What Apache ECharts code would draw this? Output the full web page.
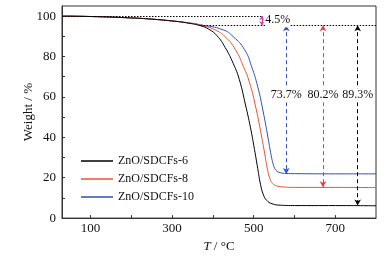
<!DOCTYPE html>
<html>
<head>
  <meta charset="UTF-8">
  <title>TGA</title>
  <script src="https://cdn.jsdelivr.net/npm/echarts@6/dist/echarts.min.js"></script>
</head>
<body style="margin:0;background:#fff;">
  <div id="main" style="width:391px;height:258px;"></div>
  <script type="text/javascript">
    // TG curves, temperature (°C) vs weight (%)
    var names = ['ZnO/SDCFs-6', 'ZnO/SDCFs-8', 'ZnO/SDCFs-10'];
    var colors = ['#000000', '#f0502a', '#2f4fb0'];
    var temp6 = [30, 100, 200, 250, 300, 340, 370, 390, 410, 430, 450, 465, 480, 492, 502, 510, 517, 524, 532, 545, 565, 600, 700, 800];
    var wt6 = [100, 99.8, 99.1, 98.5, 97.6, 96.5, 95.2, 93.5, 90.3, 84.5, 76.5, 68.5, 56.0, 45.0, 34.0, 24.5, 16.5, 11.5, 8.8, 7.1, 6.4, 6.2, 6.2, 6.1];
    var temp8 = [30, 100, 200, 250, 300, 340, 370, 405, 430, 455, 475, 490, 505, 517, 527, 534, 540, 547, 557, 575, 600, 700, 800];
    var wt8 = [100, 99.8, 99.1, 98.5, 97.6, 96.6, 95.5, 93.2, 89.8, 83.5, 75.0, 67.0, 55.0, 43.0, 32.0, 24.0, 19.5, 17.0, 15.9, 15.4, 15.2, 15.2, 15.1];
    var temp10 = [30, 100, 200, 250, 300, 340, 370, 425, 450, 478, 495, 510, 523, 535, 543, 549, 555, 565, 580, 600, 700, 800];
    var wt10 = [100, 99.8, 99.1, 98.5, 97.6, 96.7, 95.7, 93.2, 89.8, 83.3, 75.0, 65.0, 53.0, 40.0, 31.0, 26.0, 23.6, 22.5, 22.1, 22.0, 21.9, 21.9];

    // annotations
    var startLevel = 95.5;
    var loss1 = '4.5%';
    var loss1X = 520;
    var arrowX = [580, 670, 755];
    var arrowEnd = [21.8, 15.3, 6.2];
    var arrowText = ['73.7%', '80.2%', '89.3%'];
    var arrowColors = ['#3050c8', '#e83a3a', '#000000'];
    var textLevel = 60.8;

    var xTicks = [100, 200, 300, 400, 500, 600, 700];
    var xLabels = [100, 300, 500, 700];
    var yTicks = [0, 10, 20, 30, 40, 50, 60, 70, 80, 90, 100];
    var yLabels = [0, 20, 40, 60, 80, 100];

    var font = 'Liberation Serif, Times New Roman, serif';
    var dotted = { color: '#000', type: [1.5, 1.5], width: 1 };

    function pairs(xs, ys) {
      return xs.map(function (x, i) { return [x, ys[i]]; });
    }

    function arrowLine(i) {
      return {
        data: [[{ coord: [arrowX[i], startLevel] }, { coord: [arrowX[i], arrowEnd[i]] }]],
        symbol: ['arrow', 'arrow'],
        symbolSize: [5, 6],
        silent: true,
        label: { show: false },
        lineStyle: { color: arrowColors[i], type: [4, 3], width: 1 }
      };
    }

    function arrowLabel(i) {
      return {
        symbol: 'rect',
        symbolSize: 0,
        silent: true,
        data: [{ coord: [arrowX[i], textLevel], value: arrowText[i] }],
        label: {
          show: true, position: 'inside',
          formatter: function (p) { return p.value; },
          color: '#111', fontFamily: font, fontSize: 12,
          backgroundColor: '#fff', padding: [1, 0]
        }
      };
    }

    var chart = echarts.init(document.getElementById('main'));
    var seriesData = [pairs(temp6, wt6), pairs(temp8, wt8), pairs(temp10, wt10)];
    var series = names.map(function (n, i) {
      return {
        name: n,
        type: 'line',
        data: seriesData[i],
        smooth: 0.5,
        symbol: 'none',
        lineStyle: { color: colors[i], width: 1 },
        itemStyle: { color: colors[i] },
        z: 5 - i
      };
    });
    // blue -> index 2, red -> 1, black -> 0
    series[2].markLine = arrowLine(0);
    series[2].markPoint = arrowLabel(0);
    series[1].markLine = arrowLine(1);
    series[1].markPoint = arrowLabel(1);
    var black = arrowLine(2);
    black.data = black.data.concat([
      [{ coord: [30, 100], symbol: 'none', lineStyle: dotted }, { coord: [loss1X, 100], symbol: 'none' }],
      [{ coord: [370, startLevel], symbol: 'none', lineStyle: dotted }, { coord: [800, startLevel], symbol: 'none' }]
    ]);
    series[0].markLine = black;
    series[0].markPoint = arrowLabel(2);
    series[0].markPoint.data.push({ coord: [559, 97.9], value: loss1 });

    // small pink arrow for the first weight loss
    series.push({
      type: 'line',
      data: [],
      markLine: {
        silent: true,
        symbol: ['arrow', 'arrow'],
        symbolSize: [4, 4],
        label: { show: false },
        lineStyle: { color: '#d63fa8', type: 'solid', width: 1 },
        data: [[{ coord: [loss1X, 100] }, { coord: [loss1X, startLevel] }]]
      }
    });

    var option = {
      animation: false,
      grid: { left: 62, right: 15, top: 6, bottom: 38, show: true, borderColor: '#333', borderWidth: 1 },
      legend: {
        data: names,
        orient: 'vertical',
        left: 76,
        top: 150,
        itemWidth: 32,
        itemHeight: 1.5,
        itemGap: 6,
        icon: 'rect',
        textStyle: { fontFamily: font, fontSize: 12, color: '#111' }
      },
      xAxis: {
        type: 'value',
        min: 30,
        max: 800,
        name: '{i|T} / °C',
        nameLocation: 'middle',
        nameGap: 18,
        nameTextStyle: {
          fontFamily: font, fontSize: 13, color: '#111',
          rich: { i: { fontStyle: 'italic', fontFamily: font, fontSize: 13, color: '#111' } }
        },
        splitLine: { show: false },
        axisLine: { lineStyle: { color: '#333', width: 1 } },
        axisTick: { inside: true, length: 3, customValues: xTicks, lineStyle: { color: '#333' } },
        axisLabel: { customValues: xLabels, fontFamily: font, fontSize: 13, color: '#111', margin: 4 }
      },
      yAxis: {
        type: 'value',
        min: 0,
        max: 105,
        name: 'Weight / %',
        nameLocation: 'middle',
        nameGap: 27,
        nameMoveOverlap: false,
        nameTextStyle: { fontFamily: font, fontSize: 13, color: '#111' },
        splitLine: { show: false },
        axisLine: { show: true, lineStyle: { color: '#333', width: 1 } },
        axisTick: { show: true, inside: true, length: 3, customValues: yTicks, lineStyle: { color: '#333' } },
        axisLabel: { customValues: yLabels, fontFamily: font, fontSize: 13, color: '#111', margin: 6 }
      },
      series: series
    };
    chart.setOption(option);
  </script>
</body>
</html>
